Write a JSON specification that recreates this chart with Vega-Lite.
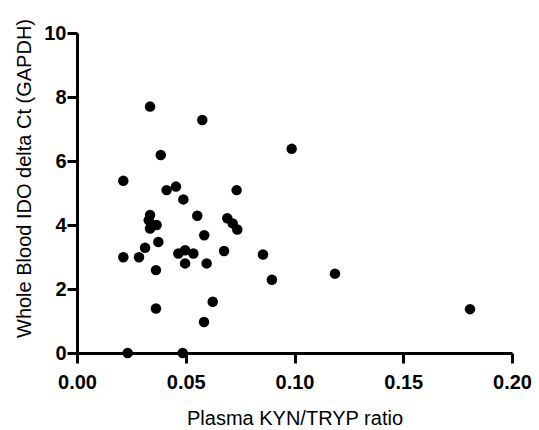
{
  "$schema": "https://vega.github.io/schema/vega-lite/v6.json",
  "autosize": "none",
  "width": 435,
  "height": 320,
  "padding": {"left": 77, "top": 33, "right": 27, "bottom": 77},
  "background": "white",
  "config": {"view": {"stroke": null}, "font": "Liberation Sans"},
  "data": {"values": [
    {"ratio": 0.0336, "ct": 7.70},
    {"ratio": 0.0576, "ct": 7.28},
    {"ratio": 0.0385, "ct": 6.19},
    {"ratio": 0.0213, "ct": 5.38},
    {"ratio": 0.0412, "ct": 5.09},
    {"ratio": 0.0455, "ct": 5.20},
    {"ratio": 0.0489, "ct": 4.80},
    {"ratio": 0.0734, "ct": 5.09},
    {"ratio": 0.0987, "ct": 6.38},
    {"ratio": 0.0336, "ct": 4.31},
    {"ratio": 0.0330, "ct": 4.15},
    {"ratio": 0.0336, "ct": 3.89},
    {"ratio": 0.0366, "ct": 4.00},
    {"ratio": 0.0553, "ct": 4.29},
    {"ratio": 0.0691, "ct": 4.21},
    {"ratio": 0.0716, "ct": 4.05},
    {"ratio": 0.0737, "ct": 3.86},
    {"ratio": 0.0585, "ct": 3.68},
    {"ratio": 0.0374, "ct": 3.47},
    {"ratio": 0.0313, "ct": 3.29},
    {"ratio": 0.0213, "ct": 2.99},
    {"ratio": 0.0285, "ct": 2.99},
    {"ratio": 0.0466, "ct": 3.11},
    {"ratio": 0.0497, "ct": 3.21},
    {"ratio": 0.0535, "ct": 3.11},
    {"ratio": 0.0497, "ct": 2.80},
    {"ratio": 0.0596, "ct": 2.80},
    {"ratio": 0.0676, "ct": 3.19},
    {"ratio": 0.0855, "ct": 3.08},
    {"ratio": 0.0896, "ct": 2.29},
    {"ratio": 0.0363, "ct": 2.59},
    {"ratio": 0.0363, "ct": 1.39},
    {"ratio": 0.0624, "ct": 1.60},
    {"ratio": 0.0584, "ct": 0.97},
    {"ratio": 0.0233, "ct": 0.0},
    {"ratio": 0.0486, "ct": 0.0},
    {"ratio": 0.1186, "ct": 2.48},
    {"ratio": 0.1807, "ct": 1.37}
  ]},
  "mark": {"type": "circle", "color": "black", "opacity": 1, "size": 110, "clip": false},
  "encoding": {
    "x": {
      "field": "ratio", "type": "quantitative",
      "scale": {"domain": [0, 0.2], "nice": false, "zero": false},
      "axis": {
        "title": "Plasma KYN/TRYP ratio", "values": [0, 0.05, 0.1, 0.15, 0.2], "format": ".2f",
        "grid": false, "domainColor": "black", "domainWidth": 3, "tickColor": "black", "tickWidth": 3, "tickSize": 10,
        "labelFlush": false, "labelOverlap": false,
        "labelFont": "Liberation Sans", "labelFontSize": 20, "labelFontWeight": "bold", "labelColor": "black", "labelPadding": 9,
        "titleFont": "Liberation Sans", "titleFontSize": 20, "titleFontWeight": "normal", "titleColor": "black", "titlePadding": 16
      }
    },
    "y": {
      "field": "ct", "type": "quantitative",
      "scale": {"domain": [0, 10], "nice": false},
      "axis": {
        "title": "Whole Blood IDO delta Ct (GAPDH)", "values": [0, 2, 4, 6, 8, 10],
        "grid": false, "domainColor": "black", "domainWidth": 3, "tickColor": "black", "tickWidth": 3, "tickSize": 10,
        "labelFlush": false, "labelOverlap": false,
        "labelFont": "Liberation Sans", "labelFontSize": 20, "labelFontWeight": "bold", "labelColor": "black", "labelPadding": 1,
        "titleFont": "Liberation Sans", "titleFontSize": 20, "titleFontWeight": "normal", "titleColor": "black", "titlePadding": 9,
        "titleY": 145
      }
    }
  }
}
